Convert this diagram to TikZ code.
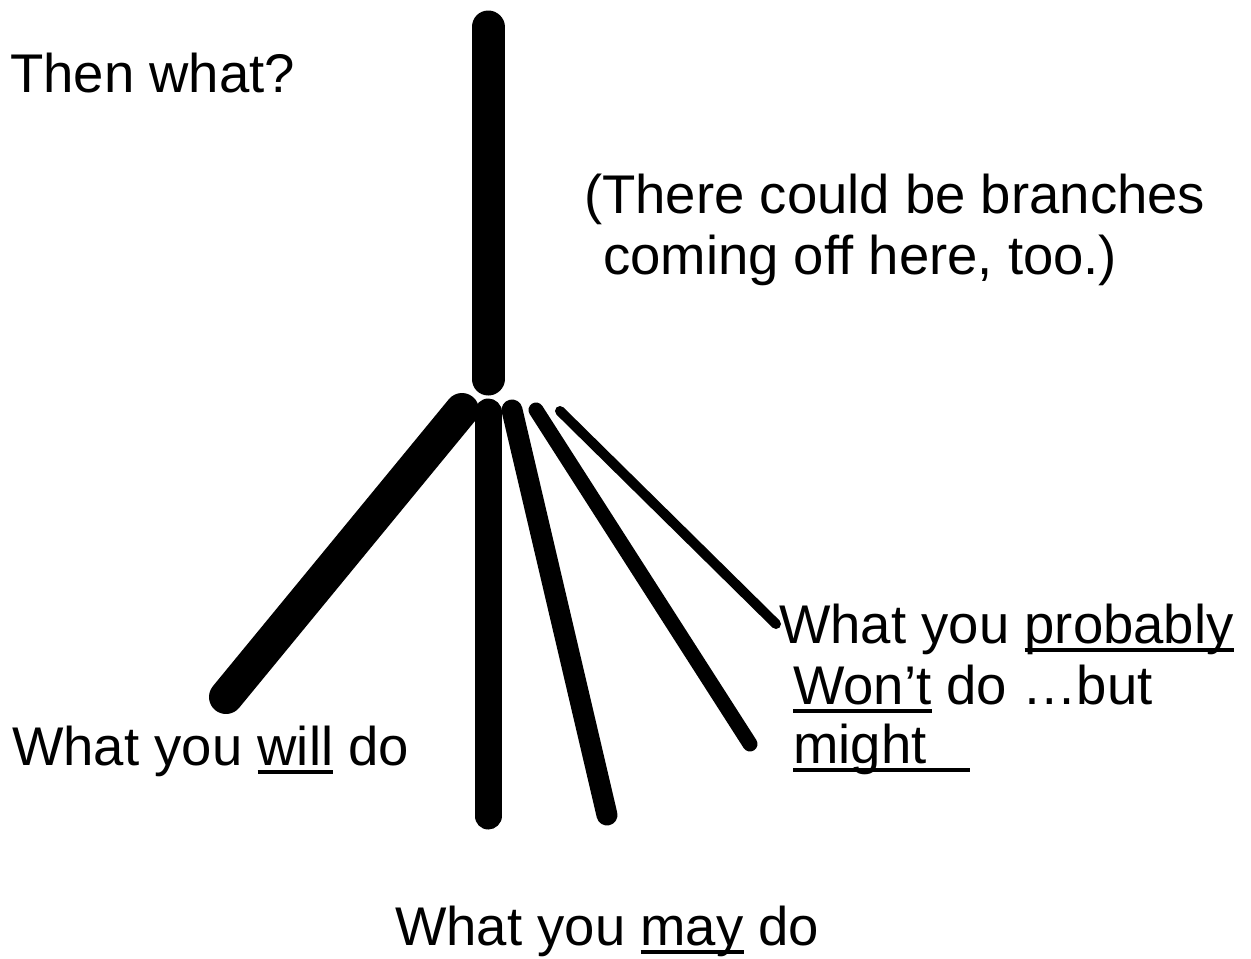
\documentclass[tikz,border=0pt]{standalone}
\usepackage{fontspec}
\setmainfont{Liberation Sans}
\newcommand\ulin[2][0pt]{\setbox0\hbox{#2}\rlap{\rule[-0.165em]{\dimexpr\wd0+#1\relax}{0.075em}}\box0\relax}
\begin{document}
\begin{tikzpicture}[x=1pt,y=-1pt,
  lbl/.style={inner sep=0pt,anchor=base west,font=\fontsize{54.5}{64}\selectfont},
  branch/.style={line cap=round,draw=black}]
\useasboundingbox (0,0) rectangle (1251,959);
\fill[white] (0,0) rectangle (1251,959);
% coordinates
\coordinate (trunkTop) at (488,27);
\coordinate (trunkBot) at (488,379);
\coordinate (willS) at (462,410);
\coordinate (willE) at (226,697);
\coordinate (midS) at (488,412);
\coordinate (midE) at (488,816);
\coordinate (mayS) at (512,410);
\coordinate (mayE) at (607,815);
\coordinate (mightS) at (536,410);
\coordinate (mightE) at (750,744);
\coordinate (probS) at (560,411);
\coordinate (probE) at (776,624);
% branches
\draw[branch,line width=33pt] (trunkTop) -- (trunkBot);
\draw[branch,line width=34pt] (willS) -- (willE);
\draw[branch,line width=27pt] (midS) -- (midE);
\draw[branch,line width=21pt] (mayS) -- (mayE);
\draw[branch,line width=15pt] (mightS) -- (mightE);
\draw[branch,line width=10pt] (probS) -- (probE);
% labels
\node[lbl] (then) at (10,92) {Then what?};
\node[lbl] (there1) at (584,213) {(There could be branches};
\node[lbl] (there2) at (603,274) {coming off here, too.)};
\node[lbl] (prob1) at (779,643) {What you \ulin{probably}};
\node[lbl] (prob2) at (793,704) {\ulin{Won’t} do …but};
\node[lbl] (prob3) at (793,763) {\ulin[0.8em]{might}};
\node[lbl] (will) at (12,765) {What you \ulin{will} do};
\node[lbl] (may) at (395,945) {What you \ulin{may} do};
\end{tikzpicture}
\end{document}
